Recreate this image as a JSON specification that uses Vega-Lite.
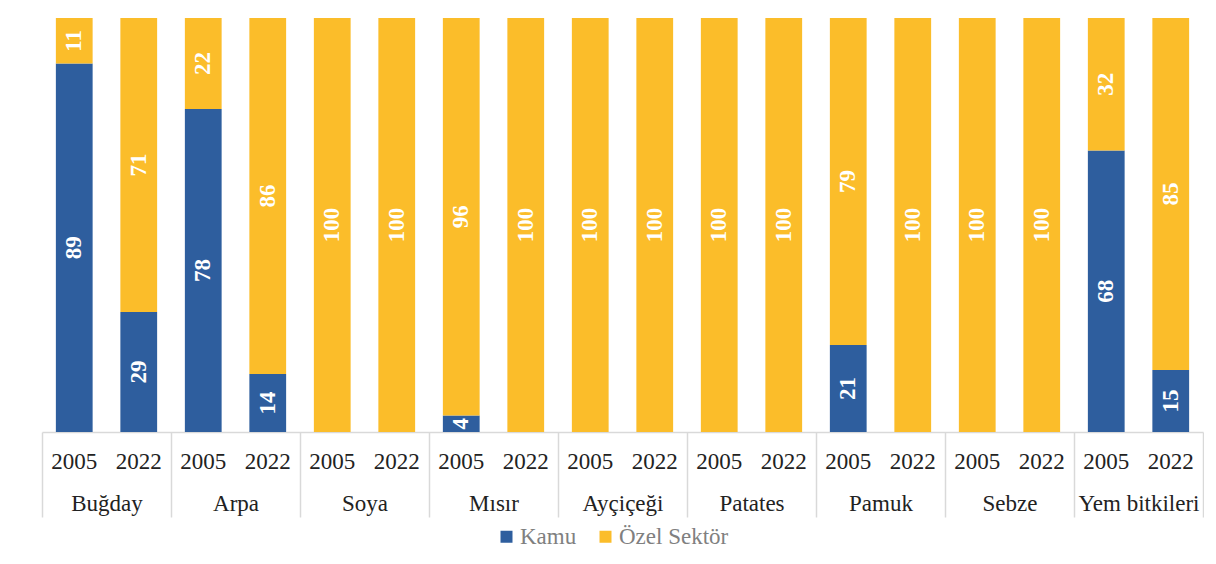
{
  "$schema": "https://vega.github.io/schema/vega-lite/v6.json",
  "width": 1161,
  "height": 414,
  "padding": {"left": 41, "top": 18, "right": 0, "bottom": 0},
  "autosize": {"type": "pad"},
  "background": "white",
  "data": {
    "values": [
      {"crop": "Buğday", "year": "2005", "key": "Buğday 2005", "series": "Kamu", "value": 89},
      {"crop": "Buğday", "year": "2005", "key": "Buğday 2005", "series": "Özel Sektör", "value": 11},
      {"crop": "Buğday", "year": "2022", "key": "Buğday 2022", "series": "Kamu", "value": 29},
      {"crop": "Buğday", "year": "2022", "key": "Buğday 2022", "series": "Özel Sektör", "value": 71},
      {"crop": "Arpa", "year": "2005", "key": "Arpa 2005", "series": "Kamu", "value": 78},
      {"crop": "Arpa", "year": "2005", "key": "Arpa 2005", "series": "Özel Sektör", "value": 22},
      {"crop": "Arpa", "year": "2022", "key": "Arpa 2022", "series": "Kamu", "value": 14},
      {"crop": "Arpa", "year": "2022", "key": "Arpa 2022", "series": "Özel Sektör", "value": 86},
      {"crop": "Soya", "year": "2005", "key": "Soya 2005", "series": "Kamu", "value": 0},
      {"crop": "Soya", "year": "2005", "key": "Soya 2005", "series": "Özel Sektör", "value": 100},
      {"crop": "Soya", "year": "2022", "key": "Soya 2022", "series": "Kamu", "value": 0},
      {"crop": "Soya", "year": "2022", "key": "Soya 2022", "series": "Özel Sektör", "value": 100},
      {"crop": "Mısır", "year": "2005", "key": "Mısır 2005", "series": "Kamu", "value": 4},
      {"crop": "Mısır", "year": "2005", "key": "Mısır 2005", "series": "Özel Sektör", "value": 96},
      {"crop": "Mısır", "year": "2022", "key": "Mısır 2022", "series": "Kamu", "value": 0},
      {"crop": "Mısır", "year": "2022", "key": "Mısır 2022", "series": "Özel Sektör", "value": 100},
      {"crop": "Ayçiçeği", "year": "2005", "key": "Ayçiçeği 2005", "series": "Kamu", "value": 0},
      {"crop": "Ayçiçeği", "year": "2005", "key": "Ayçiçeği 2005", "series": "Özel Sektör", "value": 100},
      {"crop": "Ayçiçeği", "year": "2022", "key": "Ayçiçeği 2022", "series": "Kamu", "value": 0},
      {"crop": "Ayçiçeği", "year": "2022", "key": "Ayçiçeği 2022", "series": "Özel Sektör", "value": 100},
      {"crop": "Patates", "year": "2005", "key": "Patates 2005", "series": "Kamu", "value": 0},
      {"crop": "Patates", "year": "2005", "key": "Patates 2005", "series": "Özel Sektör", "value": 100},
      {"crop": "Patates", "year": "2022", "key": "Patates 2022", "series": "Kamu", "value": 0},
      {"crop": "Patates", "year": "2022", "key": "Patates 2022", "series": "Özel Sektör", "value": 100},
      {"crop": "Pamuk", "year": "2005", "key": "Pamuk 2005", "series": "Kamu", "value": 21},
      {"crop": "Pamuk", "year": "2005", "key": "Pamuk 2005", "series": "Özel Sektör", "value": 79},
      {"crop": "Pamuk", "year": "2022", "key": "Pamuk 2022", "series": "Kamu", "value": 0},
      {"crop": "Pamuk", "year": "2022", "key": "Pamuk 2022", "series": "Özel Sektör", "value": 100},
      {"crop": "Sebze", "year": "2005", "key": "Sebze 2005", "series": "Kamu", "value": 0},
      {"crop": "Sebze", "year": "2005", "key": "Sebze 2005", "series": "Özel Sektör", "value": 100},
      {"crop": "Sebze", "year": "2022", "key": "Sebze 2022", "series": "Kamu", "value": 0},
      {"crop": "Sebze", "year": "2022", "key": "Sebze 2022", "series": "Özel Sektör", "value": 100},
      {"crop": "Yem bitkileri", "year": "2005", "key": "Yem bitkileri 2005", "series": "Kamu", "value": 68},
      {"crop": "Yem bitkileri", "year": "2005", "key": "Yem bitkileri 2005", "series": "Özel Sektör", "value": 32},
      {"crop": "Yem bitkileri", "year": "2022", "key": "Yem bitkileri 2022", "series": "Kamu", "value": 15},
      {"crop": "Yem bitkileri", "year": "2022", "key": "Yem bitkileri 2022", "series": "Özel Sektör", "value": 85}
    ]
  },
  "layer": [
    {
      "layer": [
        {
          "mark": {"type": "bar"},
          "encoding": {
            "x": {
              "field": "key", "type": "nominal", "sort": null,
              "scale": {"paddingInner": 0.43, "paddingOuter": 0.215},
              "axis": {
                "orient": "bottom", "title": null, "domain": false, "ticks": false,
                "labelAngle": 0, "labelExpr": "slice(datum.label, -4)",
                "labelFont": "Liberation Serif", "labelFontSize": 23, "labelColor": "#222222",
                "labelPadding": 18
              }
            },
            "y": {
              "field": "value", "type": "quantitative", "stack": "zero",
              "scale": {"domain": [0, 100]}, "axis": null
            },
            "order": {"field": "series", "type": "nominal", "sort": "ascending"},
            "color": {
              "field": "series", "type": "nominal",
              "scale": {"domain": ["Kamu", "Özel Sektör"], "range": ["#2E5E9E", "#FBBD2A"]},
              "legend": {
                "orient": "none", "legendX": 453, "legendY": 507,
                "direction": "horizontal", "title": null,
                "symbolType": "square", "symbolSize": 144, "symbolStrokeWidth": 0,
                "labelFont": "Liberation Serif", "labelFontSize": 23, "labelColor": "#808080",
                "labelOffset": 2, "columnPadding": 17, "padding": 0
              }
            }
          }
        },
        {
          "transform": [{"filter": "datum.value > 0"}],
          "mark": {"type": "text", "angle": 270, "align": "center", "baseline": "middle", "font": "Liberation Serif", "fontSize": 23, "fontWeight": "bold", "color": "white"},
          "encoding": {
            "x": {"field": "key", "type": "nominal", "sort": null},
            "y": {"field": "value", "type": "quantitative", "stack": "zero", "bandPosition": 0.5},
            "order": {"field": "series", "type": "nominal", "sort": "ascending"},
            "detail": {"field": "series", "type": "nominal"},
            "text": {"field": "value", "type": "quantitative"}
          }
        }
      ]
    },
    {
      "mark": {"type": "rule", "opacity": 0},
      "encoding": {
        "x": {
          "field": "crop", "type": "nominal", "sort": null,
          "scale": {"paddingInner": 0, "paddingOuter": 0},
          "axis": {
            "orient": "bottom", "title": null, "labelAngle": 0,
            "domain": true, "domainColor": "#d9d9d9", "domainWidth": 1.5,
            "ticks": true, "tickBand": "extent", "tickSize": 85, "tickColor": "#d9d9d9", "tickWidth": 1.5,
            "labelFont": "Liberation Serif", "labelFontSize": 23, "labelColor": "#222222",
            "labelPadding": -25
          }
        }
      }
    }
  ],
  "resolve": {"scale": {"x": "independent"}},
  "config": {"view": {"stroke": null}}
}
